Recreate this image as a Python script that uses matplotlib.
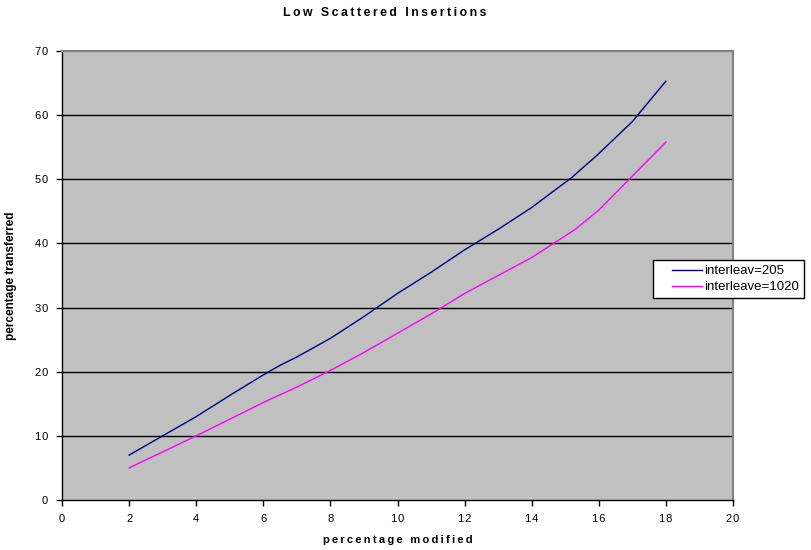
import matplotlib
matplotlib.use('Agg')
import matplotlib.pyplot as plt
from matplotlib.legend_handler import HandlerLine2D

# data
x_205 = [2, 3, 4, 5, 6, 6.5, 7, 8, 9, 10, 11, 12, 13, 14, 15.2, 16, 17, 18]
y_205 = [7, 10, 13, 16.3, 19.5, 21, 22.3, 25.2, 28.6, 32.2, 35.5, 39, 42.2,
         45.6, 50.3, 54, 59, 65.3]
x_1020 = [2, 4, 6, 7, 8, 9, 10, 11, 12, 13, 14, 15.3, 16, 17, 18]
y_1020 = [5, 10, 15.2, 17.6, 20.2, 23, 26, 29, 32.2, 35, 37.8, 42.2, 45.2,
          50.5, 55.8]
x_ticks = list(range(0, 21, 2))
y_ticks = list(range(0, 71, 10))

plt.rcParams['font.family'] = ['Liberation Sans', 'DejaVu Sans']


def spaced(s, gap='\u2009'):
    # loose letter spacing like the original chart
    return gap.join(s)


def spaced_words(s):
    return '\u2009 \u2009'.join(spaced(w) for w in s.split())


class ShiftedLine(HandlerLine2D):
    # leave a gap left of the legend line
    def get_xdata(self, legend, xdescent, ydescent, width, height, fontsize):
        xs = [-xdescent + 0.33 * width, -xdescent + width]
        return xs, xs


fig = plt.figure(figsize=(8.12, 5.5), dpi=100)
ax = fig.add_axes([62 / 812, 50 / 550, 671 / 812, 449 / 550])
ax.set_facecolor('#c0c0c0')

for y in y_ticks[1:-1]:
    ax.axhline(y, color='black', lw=1, zorder=1)

ax.plot(x_205, y_205, color='#000080', lw=1, label='interleav=205', zorder=3)
ax.plot(x_1020, y_1020, color='#ff00ff', lw=1, label='interleave=1020', zorder=3)

ax.set_xlim(0, 20)
ax.set_ylim(0, 70)
ax.set_xticks(x_ticks)
ax.set_yticks(y_ticks)
ax.set_xticklabels([spaced(str(v), '\u200a') for v in x_ticks])
ax.set_yticklabels([spaced(str(v), '\u200a') for v in y_ticks])
ax.tick_params(direction='out', length=4, width=1, labelsize=8, pad=6)

for side in ('top', 'right'):
    ax.spines[side].set_color('#808080')
    ax.spines[side].set_linewidth(1.5)
for side in ('left', 'bottom'):
    ax.spines[side].set_color('black')
    ax.spines[side].set_linewidth(1)

ax.set_xlabel(spaced_words('percentage modified'), fontsize=8,
              fontweight='bold')
ax.xaxis.set_label_coords(0.5, -35 / 449)
ax.set_ylabel('percentage transferred', fontsize=8.5, fontweight='bold')
ax.yaxis.set_label_coords(-45 / 671, 0.5)
fig.text(385 / 812, 1 - 13 / 550, spaced_words('Low Scattered Insertions'),
         ha='center', va='center', fontsize=8.8, fontweight='bold')

leg = fig.legend(loc='lower left', bbox_to_anchor=(653 / 812, 252 / 550),
                 fontsize=9.5, frameon=True, fancybox=False, edgecolor='black',
                 framealpha=1, borderaxespad=0, handlelength=3.4,
                 handletextpad=0.15, borderpad=0.35, labelspacing=0.3,
                 handler_map={plt.Line2D: ShiftedLine()})
leg.get_frame().set_linewidth(1)

fig.savefig('out.png', dpi=100)
